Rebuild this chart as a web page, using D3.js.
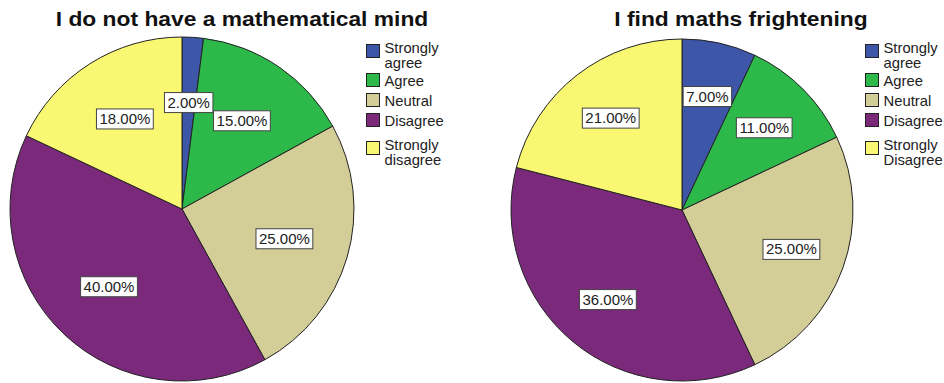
<!DOCTYPE html>
<html>
<head>
<meta charset="utf-8">
<script src="https://cdn.jsdelivr.net/npm/d3@7"></script>
<style>
  body { margin: 0; background: #fff; }
  svg { font-family: "Liberation Sans", Arial, sans-serif; }
</style>
</head>
<body>
<div id="chart"></div>
<script>
// Response categories and colours
const categories = ["Strongly agree", "Agree", "Neutral", "Disagree", "Strongly disagree"];
const colors = ["#3D56A8", "#2DB84A", "#D3CD98", "#7B2A7B", "#FAF872"];

// Legend labels (SPSS wraps them on two lines)
const legendLeft = [["Strongly", "agree"], ["Agree"], ["Neutral"], ["Disagree"], ["Strongly", "disagree"]];
const legendRight = [["Strongly", "agree"], ["Agree"], ["Neutral"], ["Disagree"], ["Strongly", "Disagree"]];

// Percentages per chart
const mindValues = [2, 15, 25, 40, 18];
const frightValues = [7, 11, 25, 36, 21];

const titles = ["I do not have a mathematical mind", "I find maths frightening"];

const width = 944, height = 383;

const svg = d3.select("#chart").append("svg")
    .attr("width", width)
    .attr("height", height);

// SPSS output text is a little wider than a plain font, rescale horizontally
function stretch(sel, k) {
    sel.each(function() {
        const w = this.getComputedTextLength();
        d3.select(this)
          .attr("textLength", w * k)
          .attr("lengthAdjust", "spacingAndGlyphs");
    });
}

function drawPie(cx, cy, r, values, title, titleX, legend, legendX, labelK) {
    const g = svg.append("g");

    // Title
    g.append("text")
     .attr("x", titleX)
     .attr("y", 26)
     .attr("text-anchor", "middle")
     .style("font-size", "20px")
     .style("font-weight", "bold")
     .style("fill", "#111")
     .text(title)
     .call(stretch, 1.14);

    const data = values.map((v, i) => ({ value: v, cat: categories[i], color: colors[i] }));

    const pie = d3.pie().sort(null).value(d => d.value);
    const arc = d3.arc().innerRadius(0).outerRadius(r);
    const labelArc = d3.arc().innerRadius(r * labelK).outerRadius(r * labelK);

    const arcs = pie(data);
    const pieG = g.append("g").attr("transform", `translate(${cx}, ${cy})`);

    pieG.selectAll("path")
        .data(arcs)
        .join("path")
        .attr("d", arc)
        .style("fill", d => d.data.color)
        .style("stroke", "#222")
        .style("stroke-width", 1);

    // Percentage labels in white boxes
    const labels = pieG.selectAll("g.lbl")
        .data(arcs)
        .join("g")
        .attr("class", "lbl")
        .attr("transform", d => `translate(${labelArc.centroid(d)})`);

    labels.append("text")
          .attr("text-anchor", "middle")
          .attr("dy", "0.36em")
          .style("font-size", "14px")
          .style("fill", "#222")
          .text(d => d3.format(".2f")(d.data.value) + "%")
          .call(stretch, 1.07);

    labels.each(function() {
        const grp = d3.select(this);
        const w = +grp.select("text").attr("textLength");
        grp.insert("rect", "text")
           .attr("x", -w / 2 - 3)
           .attr("y", -10)
           .attr("width", w + 6)
           .attr("height", 20)
           .style("fill", "#fff")
           .style("stroke", "#444")
           .style("stroke-width", 1);
    });

    // Legend
    const legendY = [44, 73, 93, 113, 141];
    const items = g.selectAll("g.leg")
        .data(legend)
        .join("g")
        .attr("class", "leg")
        .attr("transform", (d, i) => `translate(${legendX}, ${legendY[i] + 0.5})`);

    items.append("rect")
         .attr("width", 13)
         .attr("height", 13)
         .style("fill", (d, i) => colors[i])
         .style("stroke", "#222")
         .style("stroke-width", 1);

    items.each(function(lines) {
        const t = d3.select(this).append("text")
            .style("font-size", "14.5px")
            .style("fill", "#222");
        lines.forEach((line, k) => {
            t.append("tspan")
             .attr("x", 18)
             .attr("y", lines.length > 1 ? 8 + k * 15.5 : 12.5)
             .text(line);
        });
        t.selectAll("tspan").call(stretch, 1.02);
    });
}

drawPie(182, 209, 172, mindValues, titles[0], 242, legendLeft, 366.5, 0.62);
drawPie(682, 210, 171, frightValues, titles[1], 741, legendRight, 865.5, 0.68);
</script>
</body>
</html>
